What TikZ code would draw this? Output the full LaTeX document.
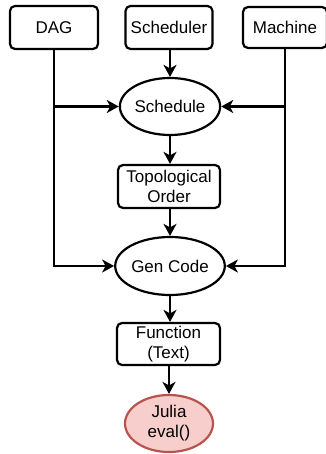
\documentclass[tikz,border=0pt]{standalone}
\usepackage{fontspec}
\setmainfont{Liberation Sans}
\usetikzlibrary{shapes.geometric,arrows.meta}
\definecolor{redfill}{HTML}{F8CECC}
\definecolor{redline}{HTML}{B85450}
\begin{document}
\begin{tikzpicture}[x=1pt,y=-1pt,
  box/.style={draw,line width=2.2pt,rounded corners=5pt,inner sep=0pt,align=center,
    font=\fontsize{17}{20}\selectfont},
  oval/.style={draw,line width=2.2pt,ellipse,inner sep=0pt,align=center,
    font=\fontsize{17}{20}\selectfont},
  arr/.style={line width=2.2pt,-{Stealth[length=12pt,width=13pt,inset=3.5pt]}},
  ln/.style={line width=2.2pt}]
\useasboundingbox (0,0) rectangle (325,454);
\node[box,minimum width=88pt,minimum height=43pt] (dag) at (54,27.5) {DAG};
\node[box,minimum width=87pt,minimum height=43pt] (schr) at (169,27.5) {Scheduler};
\node[box,minimum width=84pt,minimum height=41pt] (mach) at (285,27.5) {Machine};
\node[oval,minimum width=90pt,minimum height=57pt] (sch) at (170,106.5) {Schedule};
\node[box,minimum width=102pt,minimum height=43pt] (topo) at (169,186.5) {Topological\\Order};
\node[oval,minimum width=90pt,minimum height=58pt] (gen) at (170,266) {Gen Code};
\node[box,minimum width=103pt,minimum height=42pt] (func) at (168.5,344) {Function\\(Text)};
\node[oval,fill=redfill,draw=redline,minimum width=88pt,minimum height=57pt] (jul) at (169,423.5) {Julia\\eval()};
\draw[arr] (schr.south -| sch.north) -- (sch.north);
\draw[arr] (sch.south) -- (sch.south |- topo.north);
\draw[arr] (topo.south -| gen.north) -- (gen.north);
\draw[arr] (gen.south) -- (gen.south |- func.north);
\draw[arr] (func.south -| jul.north) -- (jul.north);
\draw[arr] (dag.south) |- (gen.west);
\draw[arr] (dag.south |- sch.west) -- (sch.west);
\draw[arr] (mach.south) |- (gen.east);
\draw[arr] (mach.south |- sch.east) -- (sch.east);
\end{tikzpicture}
\end{document}
